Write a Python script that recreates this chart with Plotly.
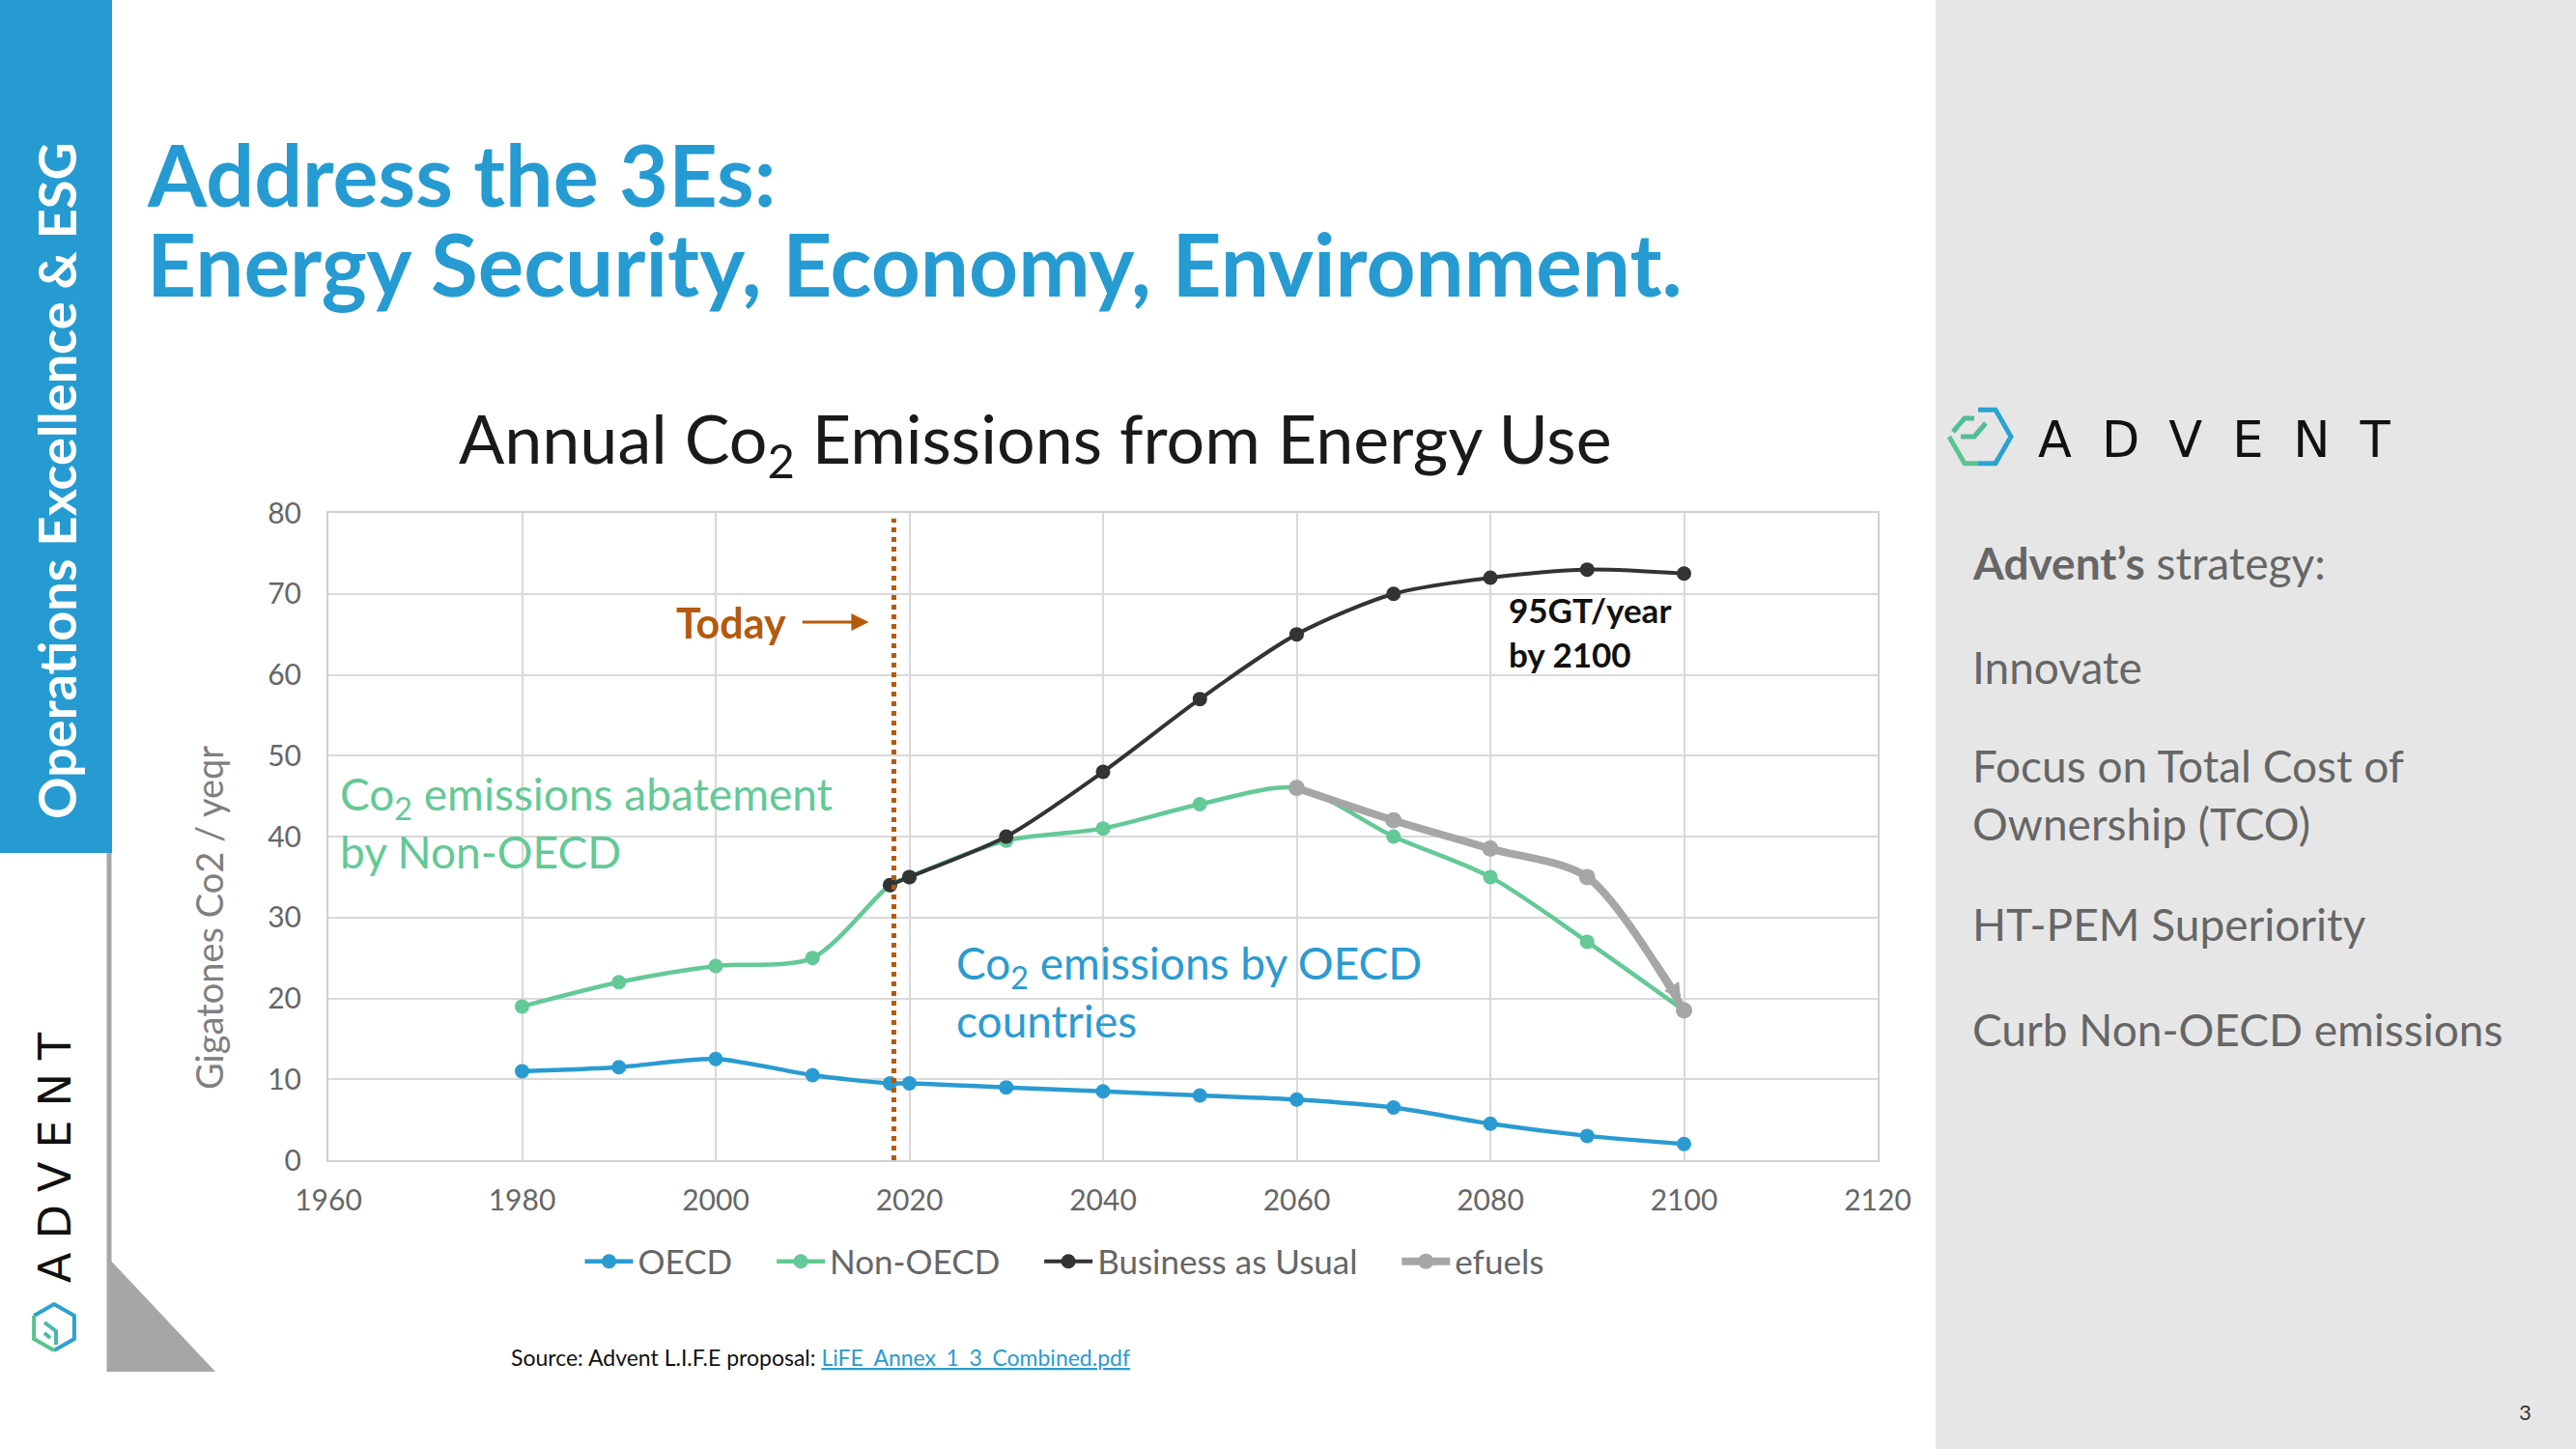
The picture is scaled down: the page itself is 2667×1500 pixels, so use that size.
import plotly.graph_objects as go

W, H = 2667, 1500

# ---------------- data ----------------
OECD_YEARS = [1980, 1990, 2000, 2010, 2018, 2020, 2030, 2040, 2050, 2060, 2070, 2080, 2090, 2100]
OECD_VALUES = [11, 11.5, 12.5, 10.5, 9.5, 9.5, 9, 8.5, 8, 7.5, 6.5, 4.5, 3, 2]

NONOECD_YEARS = [1980, 1990, 2000, 2010, 2018, 2020, 2030, 2040, 2050, 2060, 2070, 2080, 2090, 2100]
NONOECD_VALUES = [19, 22, 24, 25, 34, 35, 39.5, 41, 44, 46, 40, 35, 27, 18.5]

BAU_YEARS = [2018, 2020, 2030, 2040, 2050, 2060, 2070, 2080, 2090, 2100]
BAU_VALUES = [34, 35, 40, 48, 57, 65, 70, 72, 73, 72.5]

EFUEL_YEARS = [2060, 2070, 2080, 2090, 2100]
EFUEL_VALUES = [46, 42, 38.5, 35, 18.5]

TODAY_YEAR = 2018.4

SERIES_NAMES = ["OECD", "Non-OECD", "Business as Usual", "efuels"]

X_TICKS = [1960, 1980, 2000, 2020, 2040, 2060, 2080, 2100, 2120]
Y_TICKS = [0, 10, 20, 30, 40, 50, 60, 70, 80]

STRATEGY_LINES = ["<b>Advent’s</b> strategy:", "Innovate", "Focus on Total Cost of<br>Ownership (TCO)",
                  "HT-PEM Superiority", "Curb Non-OECD emissions"]

# ---------------- styles ----------------
BLUE = "#2A9BD1"
SLIDE_BLUE = "#259BD2"
GREEN = "#63C996"
DARK = "#333333"
GRAY = "#A6A6A6"
BROWN = "#B45A0C"
PANEL = "#E7E6E6"
FONT = "Lato"
PAD = "\u00a0" * 4


def PX(x):
    return x / W


def PY(y):
    return 1 - y / H


fig = go.Figure()

fig.add_trace(go.Scatter(x=OECD_YEARS, y=OECD_VALUES, name=SERIES_NAMES[0] + PAD, mode="lines+markers",
                         line=dict(color=BLUE, width=4.5, shape="spline", smoothing=0.8),
                         marker=dict(size=15, color=BLUE)))
fig.add_trace(go.Scatter(x=NONOECD_YEARS, y=NONOECD_VALUES, name=SERIES_NAMES[1] + PAD, mode="lines+markers",
                         line=dict(color=GREEN, width=4.5, shape="spline", smoothing=0.8),
                         marker=dict(size=15, color=GREEN)))
fig.add_trace(go.Scatter(x=BAU_YEARS, y=BAU_VALUES, name=SERIES_NAMES[2] + PAD, mode="lines+markers",
                         line=dict(color=DARK, width=4, shape="spline", smoothing=0.8),
                         marker=dict(size=15, color=DARK)))
fig.add_trace(go.Scatter(x=EFUEL_YEARS, y=EFUEL_VALUES, name=SERIES_NAMES[3], mode="lines+markers",
                         line=dict(color=GRAY, width=8, shape="spline", smoothing=0.8),
                         marker=dict(size=17, color=GRAY)))

# arrow head at end of efuels line
fx0, fy0 = EFUEL_YEARS[-2], EFUEL_VALUES[-2]
fx1, fy1 = EFUEL_YEARS[-1], EFUEL_VALUES[-1]
fig.add_annotation(x=fx1 - 0.3, y=fy1 + 1.2, ax=fx1 - (fx1 - fx0) * 0.3, ay=fy1 + 1.2 - (fy1 - fy0) * 0.3,
                   xref="x", yref="y", axref="x", ayref="y", text="", showarrow=True,
                   arrowhead=2, arrowsize=0.6, arrowwidth=6, arrowcolor=GRAY)

# Today dotted line
fig.add_shape(type="line", xref="x", yref="y", x0=TODAY_YEAR, x1=TODAY_YEAR, y0=0, y1=79.3,
              line=dict(color=BROWN, width=5, dash="dot"), layer="above")

# Today label + arrow
fig.add_annotation(x=2001.6, y=66.4, xref="x", yref="y", xanchor="center", yanchor="middle",
                   text="<b>Today</b>", showarrow=False,
                   font=dict(family=FONT, size=43, color=BROWN))
fig.add_annotation(x=2015.8, y=66.5, ax=2008.8, ay=66.5, xref="x", yref="y", axref="x", ayref="y",
                   text="", showarrow=True, arrowhead=2, arrowsize=1.2, arrowwidth=3, arrowcolor=BROWN)

# In-chart annotations
fig.add_annotation(x=2081.7, y=65.3, xref="x", yref="y", xanchor="left", yanchor="middle", align="left",
                   text="<b>95GT/year<br>by 2100</b>", showarrow=False,
                   font=dict(family=FONT, size=35, color="#111111"))
fig.add_annotation(x=1961, y=41.7, xref="x", yref="y", xanchor="left", yanchor="middle", align="left",
                   text="Co<sub>2</sub> emissions abatement<br>by Non-OECD", showarrow=False,
                   font=dict(family=FONT, size=46, color=GREEN))
fig.add_annotation(x=2024.6, y=20.8, xref="x", yref="y", xanchor="left", yanchor="middle", align="left",
                   text="Co<sub>2</sub> emissions by OECD<br>countries", showarrow=False,
                   font=dict(family=FONT, size=46, color=BLUE))

# ---------------- slide decorations ----------------
shapes = []
# left blue bar
shapes.append(dict(type="rect", xref="paper", yref="paper", x0=PX(0), x1=PX(116), y0=PY(883), y1=PY(0),
                   fillcolor=SLIDE_BLUE, line=dict(width=0), layer="below"))
# gray vertical line + triangle
shapes.append(dict(type="line", xref="paper", yref="paper", x0=PX(113), x1=PX(113), y0=PY(883), y1=PY(1420),
                   line=dict(color="#A6A6A6", width=5), layer="below"))
shapes.append(dict(type="path", xref="paper", yref="paper",
                   path=f"M {PX(111)} {PY(1301)} L {PX(111)} {PY(1420)} L {PX(223)} {PY(1420)} Z",
                   fillcolor="#A6A6A6", line=dict(width=0), layer="below"))
# right panel
shapes.append(dict(type="rect", xref="paper", yref="paper", x0=PX(2004), x1=PX(W), y0=0, y1=1,
                   fillcolor=PANEL, line=dict(width=0), layer="below"))


# right logo hexagon (flat top, pointy sides)
def hex_flat(cx, cy, r):
    return [(cx - r, cy), (cx - r / 2, cy - r * 0.87), (cx + r / 2, cy - r * 0.87),
            (cx + r, cy), (cx + r / 2, cy + r * 0.87), (cx - r / 2, cy + r * 0.87)]


pts = hex_flat(2050, 452, 32)
right_half = (f"M {PX(pts[1][0]+14)} {PY(pts[1][1])} L {PX(pts[2][0])} {PY(pts[2][1])} "
              f"L {PX(pts[3][0])} {PY(pts[3][1])} L {PX(pts[4][0])} {PY(pts[4][1])} L {PX(pts[5][0]+14)} {PY(pts[5][1])}")
left_half = (f"M {PX(pts[5][0]+14)} {PY(pts[5][1])} L {PX(pts[5][0])} {PY(pts[5][1])} "
             f"L {PX(pts[0][0])} {PY(pts[0][1])}")
shapes.append(dict(type="path", xref="paper", yref="paper", path=right_half,
                   line=dict(color="#2BA3CF", width=5)))
shapes.append(dict(type="path", xref="paper", yref="paper", path=left_half,
                   line=dict(color="#5CC48E", width=5)))
shapes.append(dict(type="path", xref="paper", yref="paper",
                   path=(f"M {PX(2022)} {PY(447)} L {PX(2034)} {PY(433)} L {PX(2044)} {PY(433)} "
                         f"M {PX(2030)} {PY(452)} L {PX(2044)} {PY(452)} L {PX(2056)} {PY(438)}"),
                   line=dict(color="#52BE97", width=5)))

# left small logo hexagon (pointy top)
cx, cy, r = 56, 1374, 24
hp = [(cx, cy - r), (cx + r * 0.87, cy - r / 2), (cx + r * 0.87, cy + r / 2), (cx, cy + r),
      (cx - r * 0.87, cy + r / 2), (cx - r * 0.87, cy - r / 2)]
shapes.append(dict(type="path", xref="paper", yref="paper",
                   path="M " + " L ".join(f"{PX(a)} {PY(b)}" for a, b in [hp[5], hp[0], hp[1], hp[2], hp[3]]),
                   line=dict(color="#2BA3CF", width=4)))
shapes.append(dict(type="path", xref="paper", yref="paper",
                   path="M " + " L ".join(f"{PX(a)} {PY(b)}" for a, b in [hp[3], hp[4], hp[5]]),
                   line=dict(color="#5CC48E", width=4)))
shapes.append(dict(type="path", xref="paper", yref="paper",
                   path=f"M {PX(46)} {PY(1369)} L {PX(58)} {PY(1378)} L {PX(58)} {PY(1392)} M {PX(46)} {PY(1380)} L {PX(52)} {PY(1385)}",
                   line=dict(color="#4DB8A8", width=4)))

annotations = []
# side bar text
annotations.append(dict(x=PX(58), y=PY(498), text="<b>Operations Excellence &amp; ESG</b>",
                        textangle=-90, font=dict(family=FONT, size=54, color="white")))
# vertical ADVENT
annotations.append(dict(x=PX(57), y=PY(1192),
                        text='<span style="letter-spacing:14px">ADVENT</span>',
                        textangle=-90, font=dict(family="DejaVu Sans", size=46, color="#111111")))
# right ADVENT logo text
annotations.append(dict(x=PX(2108), y=PY(455), xanchor="left",
                        text='<span style="letter-spacing:31px">ADVENT</span>',
                        font=dict(family="DejaVu Sans", size=51, color="#111111")))
# title
annotations.append(dict(x=PX(150), y=PY(180), xanchor="left",
                        text="<b>Address the 3Es:</b>", font=dict(family=FONT, size=88, color=SLIDE_BLUE)))
annotations.append(dict(x=PX(150), y=PY(273), xanchor="left",
                        text="<b>Energy Security, Economy, Environment.</b>",
                        font=dict(family=FONT, size=89, color=SLIDE_BLUE)))
# chart title
annotations.append(dict(x=PX(1072), y=PY(458),
                        text="Annual Co<sub>2</sub> Emissions from Energy Use",
                        font=dict(family=FONT, size=70, color="#1a1a1a")))
# y-axis title
annotations.append(dict(x=PX(216), y=PY(950), textangle=-90,
                        text="Gigatones Co2 / yeqr", font=dict(family=FONT, size=38, color="#7F7F7F")))
# strategy text
strategy_y = [582, 690, 822, 956, 1065]
for txt, yy in zip(STRATEGY_LINES, strategy_y):
    annotations.append(dict(x=PX(2040), y=PY(yy), xanchor="left", align="left", text=txt,
                            font=dict(family=FONT, size=46, color="#666666")))
# source
annotations.append(dict(x=PX(527), y=PY(1405), xanchor="left",
                        text='Source: Advent L.I.F.E proposal: <span style="color:#2A9BD1"><u>LiFE_Annex_1_3_Combined.pdf</u></span>',
                        font=dict(family=FONT, size=23, color="#111111")))
# page number
annotations.append(dict(x=PX(2614), y=PY(1461), text="3", font=dict(family=FONT, size=22, color="#333333")))

for a in annotations:
    a.setdefault("xref", "paper")
    a.setdefault("yref", "paper")
    a.setdefault("xanchor", "center")
    a.setdefault("yanchor", "middle")
    a.setdefault("showarrow", False)
    fig.add_annotation(**a)
for s in shapes:
    fig.add_shape(**s)

fig.update_layout(
    width=W, height=H,
    margin=dict(l=0, r=0, t=0, b=0, autoexpand=False),
    paper_bgcolor="white", plot_bgcolor="white",
    font=dict(family=FONT, color="#666666"),
    showlegend=True,
    legend=dict(orientation="h", x=PX(1102), xanchor="center", y=PY(1306), yanchor="middle",
                font=dict(family=FONT, size=35, color="#666666"), itemwidth=50,
                bgcolor="rgba(0,0,0,0)"),
    xaxis=dict(domain=[PX(340), PX(1944)], range=[1960, 2120], tickvals=X_TICKS,
               showgrid=True, gridcolor="#D9D9D9", gridwidth=2, zeroline=False,
               showline=True, linecolor="#D0D0D0", linewidth=2, mirror=True,
               ticks="outside", ticklen=14, tickcolor="rgba(0,0,0,0)",
               tickfont=dict(family=FONT, size=30, color="#666666")),
    yaxis=dict(domain=[PY(1201), PY(531)], range=[0, 80], tickvals=Y_TICKS,
               showgrid=True, gridcolor="#D9D9D9", gridwidth=2, zeroline=False,
               showline=True, linecolor="#D0D0D0", linewidth=2, mirror=True,
               ticks="outside", ticklen=20, tickcolor="rgba(0,0,0,0)",
               tickfont=dict(family=FONT, size=30, color="#666666")),
)

fig.write_html("out.html", config={"displayModeBar": False},
               post_script="document.body.style.margin='0';document.body.style.padding='0';"
                           "document.body.style.overflow='hidden';")
